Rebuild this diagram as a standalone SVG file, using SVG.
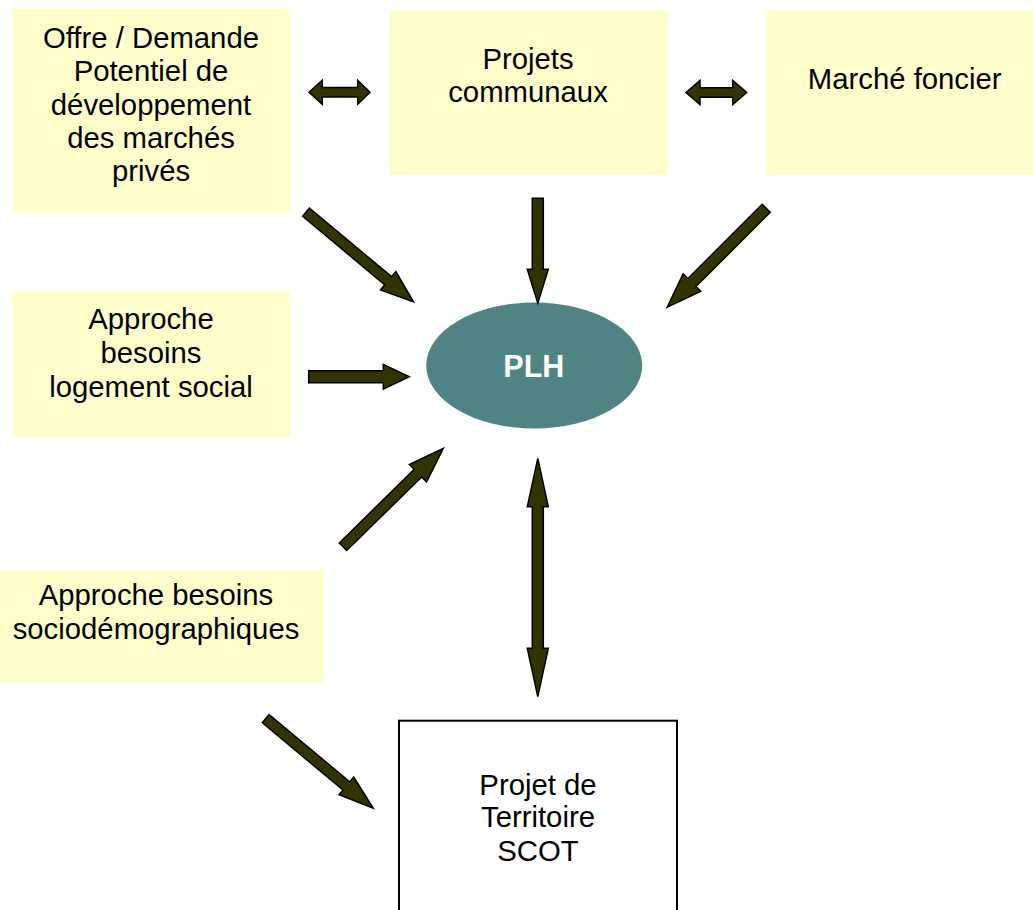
<svg xmlns="http://www.w3.org/2000/svg" width="1033" height="910" viewBox="0 0 1033 910">
<style>
.box{fill:#FFFFCC;stroke:none}
.t{font-family:"Liberation Sans",Arial,sans-serif;font-size:29.3px;fill:#000;text-anchor:middle}
.arr{fill:#333300;stroke:#000;stroke-width:1.5;stroke-linejoin:miter}
</style>
<rect width="1033" height="910" fill="#fff"/>
<g id="n-offre">
<rect class="box" x="12" y="9" width="278" height="203.5"/>
<text class="t"><tspan x="151" y="47.5">Offre / Demande</tspan><tspan x="151" y="81">Potentiel de</tspan><tspan x="151" y="114.5">développement</tspan><tspan x="151" y="148">des marchés</tspan><tspan x="151" y="181">privés</tspan></text>
</g>
<g id="n-projets">
<rect class="box" x="389" y="10" width="278.5" height="165"/>
<text class="t"><tspan x="528" y="68.5">Projets</tspan><tspan x="528" y="101.5">communaux</tspan></text>
</g>
<g id="n-marche">
<rect class="box" x="766" y="10" width="280" height="165"/>
<text class="t" x="904.7" y="89.3">Marché foncier</text>
</g>
<g id="n-social">
<rect class="box" x="12" y="292" width="278" height="145.3"/>
<text class="t"><tspan x="151" y="329">Approche</tspan><tspan x="151" y="362.5">besoins</tspan><tspan x="151" y="396.5">logement social</tspan></text>
</g>
<g id="n-socio">
<rect class="box" x="0" y="569.3" width="324" height="113.4"/>
<text class="t"><tspan x="156" y="605">Approche besoins</tspan><tspan x="156" y="639.3">sociodémographiques</tspan></text>
</g>
<g id="n-plh">
<ellipse cx="534.2" cy="365.5" rx="108" ry="63" fill="#508484"/>
<text x="533.8" y="377" font-family="'Liberation Sans',Arial,sans-serif" font-size="30.5" font-weight="bold" fill="#fff" text-anchor="middle">PLH</text>
</g>
<g id="n-scot">
<rect x="399" y="720.7" width="278" height="220" fill="#fff" stroke="#000" stroke-width="2"/>
<text class="t"><tspan x="538" y="794.5">Projet de</tspan><tspan x="538" y="827.2">Territoire</tspan><tspan x="538" y="860.5">SCOT</tspan></text>
</g>
<g id="connectors">
<polygon class="arr" points="309,92.3 322.3,80.3 322.3,87.6 357.7,87.6 357.7,80.3 370,92.3 357.7,104.3 357.7,97 322.3,97 322.3,104.3"/>
<polygon class="arr" points="686,92.5 700,80.5 700,87.8 732.7,87.8 732.7,80.5 746.7,92.5 732.7,104.5 732.7,97.2 700,97.2 700,104.5"/>
<polygon class="arr" transform="translate(306,212.2) rotate(39.83)" points="0,-5.3 107,-5.3 107,-12 140,0 107,12 107,5.3 0,5.3"/>
<polygon class="arr" transform="translate(537.8,198.3) rotate(90)" points="0,-5.5 71,-5.5 71,-10.5 105,0 71,10.5 71,5.5 0,5.5"/>
<polygon class="arr" transform="translate(766.2,208.3) rotate(135)" points="0,-5.7 105,-5.7 105,-12.5 140,0 105,12.5 105,5.7 0,5.7"/>
<polygon class="arr" points="308.7,370.7 383.3,370.7 383.3,364.4 409.3,376.7 383.3,389 383.3,382.7 308.7,382.7"/>
<polygon class="arr" transform="translate(343,546.7) rotate(-44.45)" points="0,-5.3 105,-5.3 105,-12.2 140.5,0 105,12.2 105,5.3 0,5.3"/>
<polygon class="arr" points="537.8,458.3 548.3,506.7 543.3,506.7 543.3,648.3 548.3,648.3 537.8,696.7 527.3,648.3 532.3,648.3 532.3,506.7 527.3,506.7"/>
<polygon class="arr" transform="translate(265.7,718.7) rotate(39.8)" points="0,-5.3 105,-5.3 105,-11.5 140,0 105,11.5 105,5.3 0,5.3"/>
</g>
</svg>
